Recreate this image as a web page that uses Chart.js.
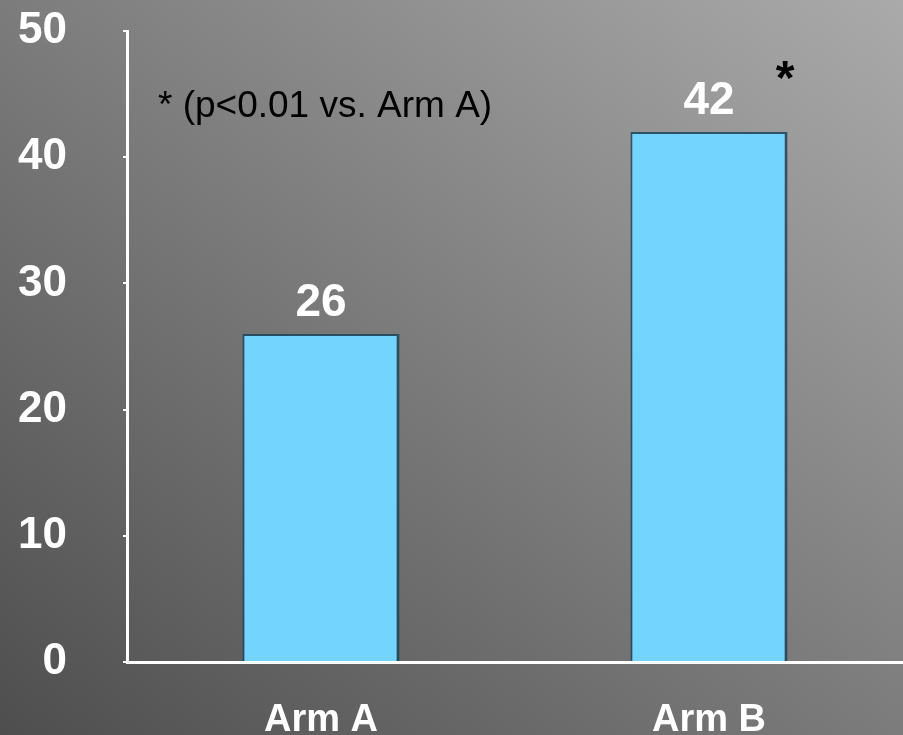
<!DOCTYPE html>
<html lang="en">
<head>
    <meta charset="UTF-8">
    <title>Arm A vs Arm B</title>
    <script src="https://cdn.jsdelivr.net/npm/chart.js"></script>
    <style>
        html, body {
            margin: 0;
            padding: 0;
            overflow: hidden;
        }

        body {
            width: 903px;
            height: 735px;
            /* grey slide background, lighter towards the top right */
            background: linear-gradient(to bottom left, #aaaaaa 0%, #7c7c7c 50%, #4e4e4e 100%);
            font-family: 'Liberation Sans', Arial, sans-serif;
        }

        .chart-box {
            position: relative;
            width: 903px;
            height: 735px;
        }
    </style>
</head>
<body>
    <div class="chart-box">
        <canvas id="barChart"></canvas>
    </div>

    <script>
        // Data
        const arms = ['Arm A', 'Arm B'];
        const values = [26, 42];
        const yTicks = [0, 10, 20, 30, 40, 50];
        const footnote = '* (p<0.01 vs. Arm A)';
        const starredArm = 1; // Arm B is significant vs. Arm A

        // Value labels, significance star and footnote
        const labelPlugin = {
            id: 'labelPlugin',
            afterDatasetsDraw(chart) {
                const ctx = chart.ctx;
                const meta = chart.getDatasetMeta(0);
                ctx.save();
                ctx.fillStyle = '#ffffff';
                ctx.textAlign = 'center';
                ctx.textBaseline = 'alphabetic';
                ctx.font = 'bold 46px "Liberation Sans", Arial, sans-serif';
                meta.data.forEach((bar, i) => {
                    ctx.fillText(String(values[i]), bar.x, bar.y - 18);
                });

                // star next to the significant bar
                const sb = meta.data[starredArm];
                ctx.fillStyle = '#000000';
                ctx.font = 'bold 48px "Liberation Sans", Arial, sans-serif';
                ctx.fillText('*', sb.x + 76, sb.y - 38);

                // footnote in the upper left of the plot
                const area = chart.chartArea;
                ctx.textAlign = 'left';
                ctx.font = '37px "Liberation Sans", Arial, sans-serif';
                ctx.fillText(footnote, area.left + 31, 117);
                ctx.restore();
            }
        };

        // keep the plot area fixed: no extra room for half-height tick labels
        function noEdgePadding(scale) {
            scale.paddingTop = 0;
            scale.paddingBottom = 0;
            scale.paddingLeft = 0;
            scale.paddingRight = 0;
        }

        const barCtx = document.getElementById('barChart').getContext('2d');
        new Chart(barCtx, {
            type: 'bar',
            data: {
                labels: arms,
                datasets: [{
                    data: values,
                    backgroundColor: '#73d4fe',
                    borderColor: 'rgba(25, 70, 95, 0.85)',
                    borderWidth: { top: 2, left: 2, right: 3, bottom: 0 },
                    borderSkipped: 'bottom',
                    categoryPercentage: 1.0,
                    barPercentage: 0.405
                }]
            },
            options: {
                responsive: true,
                maintainAspectRatio: false,
                animation: false,
                layout: {
                    padding: { top: 31, right: 0, bottom: 0, left: 0 }
                },
                plugins: {
                    legend: { display: false },
                    tooltip: { enabled: false }
                },
                scales: {
                    x: {
                        grid: { display: false },
                        border: { display: true, color: '#ffffff', width: 3 },
                        ticks: {
                            color: '#ffffff',
                            padding: 28,
                            font: { family: '"Liberation Sans", Arial, sans-serif', size: 38, weight: 'bold' }
                        },
                        afterFit(scale) {
                            scale.height = 73;
                            noEdgePadding(scale);
                        }
                    },
                    y: {
                        min: 0,
                        max: 50,
                        afterBuildTicks(scale) {
                            scale.ticks = yTicks.map(v => ({ value: v }));
                        },
                        grid: {
                            drawOnChartArea: false,
                            color: '#ffffff',
                            tickLength: 4,
                            lineWidth: 2
                        },
                        border: { display: true, color: '#ffffff', width: 3 },
                        ticks: {
                            color: '#ffffff',
                            padding: 56,
                            font: { family: '"Liberation Sans", Arial, sans-serif', size: 44, weight: 'bold' }
                        },
                        afterFit(scale) {
                            scale.width = 127;
                            noEdgePadding(scale);
                        }
                    }
                }
            },
            plugins: [labelPlugin]
        });
    </script>
</body>
</html>
